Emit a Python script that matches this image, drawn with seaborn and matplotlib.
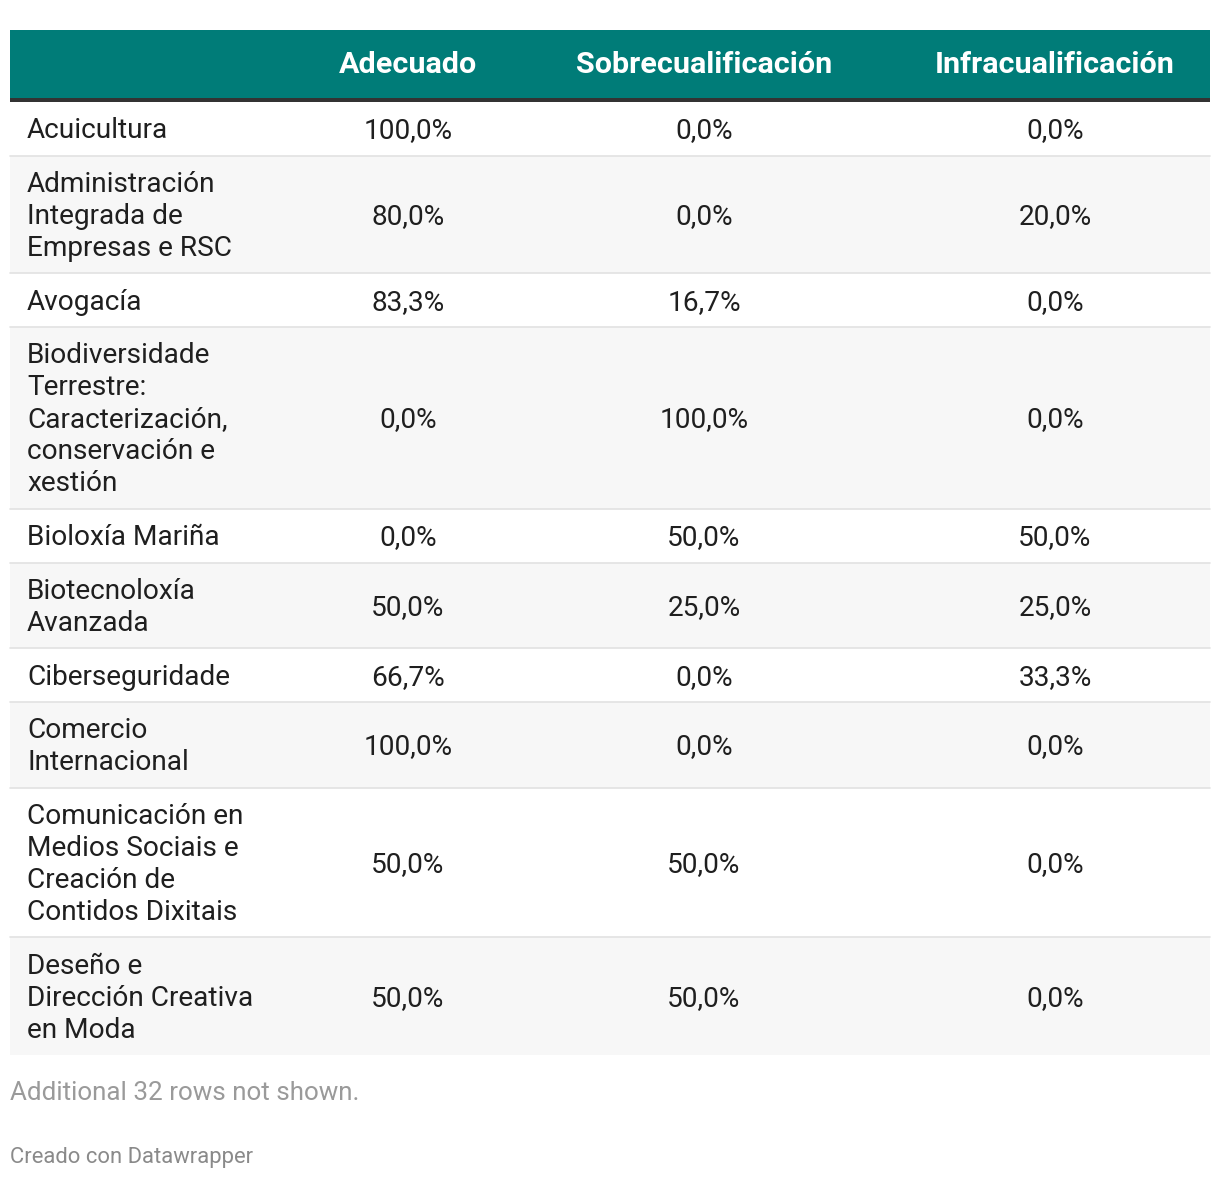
import matplotlib
matplotlib.use("Agg")
from matplotlib import pyplot as plt
import seaborn as sns

# table contents
labels = [
    "Acuicultura",
    "Administración\nIntegrada de\nEmpresas e RSC",
    "Avogacía",
    "Biodiversidade\nTerrestre:\nCaracterización,\nconservación e\nxestión",
    "Bioloxía Mariña",
    "Biotecnoloxía\nAvanzada",
    "Ciberseguridade",
    "Comercio\nInternacional",
    "Comunicación en\nMedios Sociais e\nCreación de\nContidos Dixitais",
    "Deseño e\nDirección Creativa\nen Moda",
]
columns = ["Adecuado", "Sobrecualificación", "Infracualificación"]
adecuado = [100.0, 80.0, 83.3, 0.0, 0.0, 50.0, 66.7, 100.0, 50.0, 50.0]
sobrecualificacion = [0.0, 0.0, 16.7, 100.0, 50.0, 25.0, 0.0, 0.0, 50.0, 50.0]
infracualificacion = [0.0, 20.0, 0.0, 0.0, 50.0, 25.0, 33.3, 0.0, 0.0, 0.0]
hidden_rows = 32

W, H = 1220, 1182
TEAL = "#007c78"
FONT = "Roboto"

sns.set_style("white")
plt.rcParams["font.family"] = [FONT, "DejaVu Sans"]

fig = plt.figure(figsize=(W / 100, H / 100), dpi=100)
ax = fig.add_axes([0, 0, 1, 1])
ax.set_xlim(0, W)
ax.set_ylim(H, 0)
ax.axis("off")

left, right = 10, 1210
col_x = [408, 704, 1055]
line_h = 32
pad = 21.7
px = 72 / 100  # px -> pt

# header
head_top, head_h = 30, 68
ax.barh(head_top + head_h / 2, right - left, height=head_h, left=left,
        color=TEAL, linewidth=0)
ax.barh(head_top + head_h + 2, right - left, height=4, left=left,
        color="#333333", linewidth=0)
for x, c in zip(col_x, columns):
    ax.text(x, head_top + head_h / 2 + 1, c, ha="center", va="center",
            color="white", fontsize=30.5 * px, fontweight="bold")

# rows
fmt = lambda v: f"{v:.1f}".replace(".", ",") + "%"
y = head_top + head_h + 4
for i, lab in enumerate(labels):
    lines = lab.split("\n")
    h = pad + line_h * len(lines)
    bg = "white" if i % 2 == 0 else "#f7f7f7"
    ax.barh(y + h / 2, right - left, height=h, left=left, color=bg, linewidth=0)
    if i < len(labels) - 1:
        ax.plot([left, right], [y + h, y + h], color="#e2e2e2", lw=1.2)
    mid = y + h / 2
    top = mid - line_h * (len(lines) - 1) / 2
    for k, ln in enumerate(lines):
        ax.text(27, top + k * line_h + 2, ln, ha="left", va="center",
                color="#1f1f1f", fontsize=28 * px)
    vals = [adecuado[i], sobrecualificacion[i], infracualificacion[i]]
    for x, v in zip(col_x, vals):
        ax.text(x, mid + 2, fmt(v), ha="center", va="center",
                color="#1f1f1f", fontsize=28 * px)
    y += h

ax.text(10, y + 38, f"Additional {hidden_rows} rows not shown.", ha="left",
        va="center", color="#9a9a9a", fontsize=26 * px)
ax.text(10, 1158, "Creado con Datawrapper", ha="left", va="center",
        color="#8a8a8a", fontsize=22 * px)

fig.savefig("out.png", dpi=100, facecolor="white")
